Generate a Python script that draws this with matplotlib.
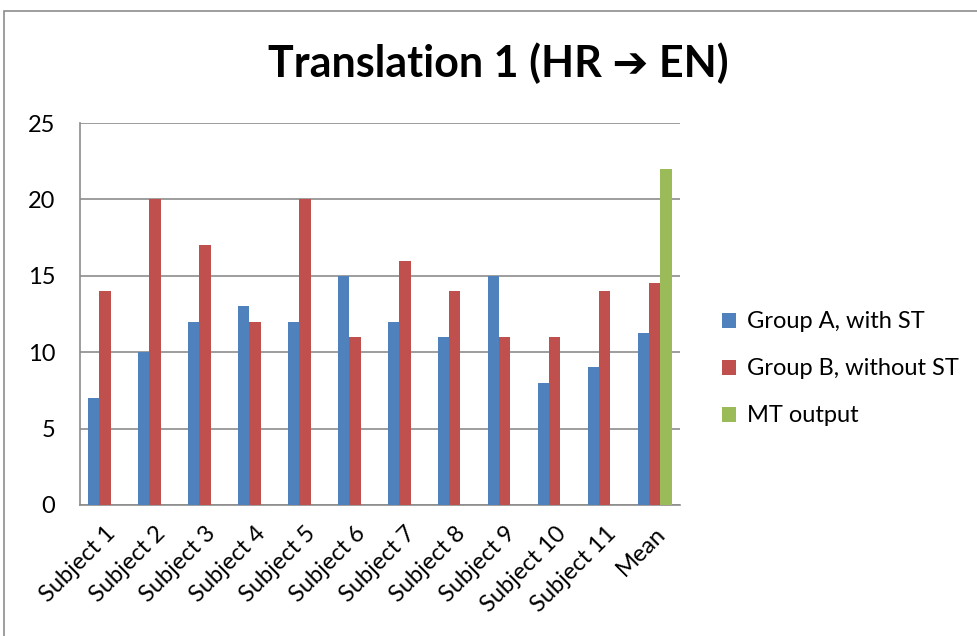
import numpy as np
import matplotlib
matplotlib.use("Agg")
import matplotlib.pyplot as plt
from matplotlib.patches import Patch

# ---------------------------------------------------------------
# DATA
# ---------------------------------------------------------------
categories = ['Subject 1', 'Subject 2', 'Subject 3', 'Subject 4', 'Subject 5',
              'Subject 6', 'Subject 7', 'Subject 8', 'Subject 9', 'Subject 10',
              'Subject 11', 'Mean']
group_a = [7, 10, 12, 13, 12, 15, 12, 11, 15, 8, 9, 11.27]
group_b = [14, 20, 17, 12, 20, 11, 16, 14, 11, 11, 14, 14.55]
mt_output = [0, 0, 0, 0, 0, 0, 0, 0, 0, 0, 0, 22]
series_names = ['Group A, with ST', 'Group B, without ST', 'MT output']
colors = ['#4F81BD', '#C0504D', '#9BBB59']

plt.rcParams['font.family'] = ['Lato', 'DejaVu Sans']

fig = plt.figure(figsize=(9.77, 6.36), dpi=100)
ax = fig.add_axes([0.0819, 0.206, 0.614, 0.6006])

# chart border (Excel-like frame)
fig.patches.append(plt.Rectangle((4 / 977, -0.1), 1.2, 1 - 11 / 636 + 0.1,
                                 transform=fig.transFigure, fill=False,
                                 edgecolor='#8c8c8c', linewidth=1.2))

x = np.arange(len(categories))
w = 1 / 4.5
for i, (vals, c) in enumerate(zip([group_a, group_b, mt_output], colors)):
    ax.bar(x + (i - 1) * w, vals, width=w, color=c, edgecolor='none', zorder=3)

ax.set_xlim(-0.5, len(categories) - 0.5)
ax.set_ylim(0, 25)
ax.set_yticks(range(0, 26, 5))
ax.yaxis.grid(True, color='#8c8c8c', linewidth=1.2, zorder=0)
ax.set_axisbelow(True)
ax.tick_params(length=0, labelsize=17)
ax.tick_params(axis='y', pad=18)
ax.tick_params(axis='x', pad=13)
ax.set_xticks(x)
ax.set_xticklabels(categories, rotation=45, ha='right', rotation_mode='anchor')
for s in ['top', 'right']:
    ax.spines[s].set_visible(False)
for s in ['left', 'bottom']:
    ax.spines[s].set_color('#8c8c8c')
    ax.spines[s].set_linewidth(1.2)

fig.text(0.51, 0.9, 'Translation 1 (HR \u2794 EN)', ha='center', va='center',
         fontsize=31, fontweight='bold')

handles = [Patch(facecolor=c, edgecolor='none') for c in colors]
fig.legend(handles, series_names, loc='center left', bbox_to_anchor=(0.739, 0.42),
           frameon=False, fontsize=17, handlelength=0.6, handleheight=0.6,
           handletextpad=0.45, labelspacing=1.1, borderpad=0, borderaxespad=0)

plt.savefig('out.png', dpi=100)
